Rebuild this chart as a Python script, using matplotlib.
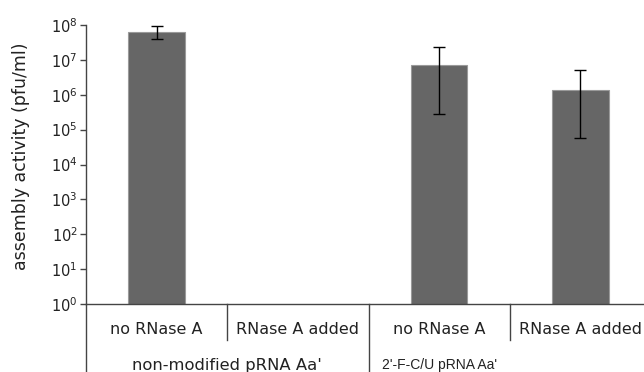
import numpy as np
import matplotlib.pyplot as plt
from matplotlib.transforms import blended_transform_factory

# data
labels = ['no RNase A', 'RNase A added', 'no RNase A', 'RNase A added']
groups = ["non-modified pRNA Aa'", "2'-F-C/U pRNA Aa'"]
values = [6.4e7, np.nan, 7.0e6, 1.4e6]
err_hi = [9.3e7, np.nan, 2.3e7, 5.0e6]
err_lo = [3.9e7, np.nan, 2.8e5, 5.6e4]

fig = plt.figure(figsize=(6.44, 3.72), dpi=100)
ax = fig.add_axes([86/644, 68/372, 565/644, 279/372])

x = np.arange(len(labels))
vals = np.array(values)
lo = vals - np.array(err_lo)
hi = np.array(err_hi) - vals
ok = ~np.isnan(vals)

ax.bar(x[ok], vals[ok], width=0.4, color='#666666', edgecolor='#9a9a9a', linewidth=0.8, zorder=2)
ax.errorbar(x[ok], vals[ok], yerr=[lo[ok], hi[ok]], fmt='none', ecolor='black',
            elinewidth=1, capsize=4, capthick=1, zorder=3)

ax.set_yscale('log')
ax.set_ylim(1, 1e8)
ax.set_xlim(-0.5, 3.5)
ax.set_yticks([10.0**k for k in range(9)])
ax.minorticks_off()
ax.set_xticks([])
ax.tick_params(axis='y', length=4, width=1, color='#444444', labelsize=10.5, pad=2,
               labelcolor='#222222')
for s in ['top', 'right']:
    ax.spines[s].set_visible(False)
for s in ['left', 'bottom']:
    ax.spines[s].set_color('#444444')
    ax.spines[s].set_linewidth(1)
fig.text(21/644, 1 - 156/372, 'assembly activity (pfu/ml)', rotation=90,
         ha='center', va='center', fontsize=12.5, color='#222222')

# category table under the axis
tr = blended_transform_factory(ax.transData, ax.transAxes)
ax.plot([-0.5, -0.5], [0, -0.25], color='#444444', lw=1, transform=tr, clip_on=False)
ax.plot([1.5, 1.5], [0, -0.25], color='#444444', lw=1, transform=tr, clip_on=False)
for xd in [0.5, 2.5]:
    ax.plot([xd, xd], [0, -0.129], color='#444444', lw=1, transform=tr, clip_on=False)
for xi, lab in zip(x, labels):
    ax.text(xi, -0.093, lab, transform=tr, ha='center', va='center', fontsize=11.5, color='#222222')
ax.text(0.5, -0.219, groups[0], transform=tr, ha='center', va='center', fontsize=11.8, color='#222222')
ax.text(2.0, -0.219, groups[1], transform=tr, ha='center', va='center', fontsize=10,
        family='Liberation Sans', color='#222222')

fig.savefig('out.png', dpi=100)
